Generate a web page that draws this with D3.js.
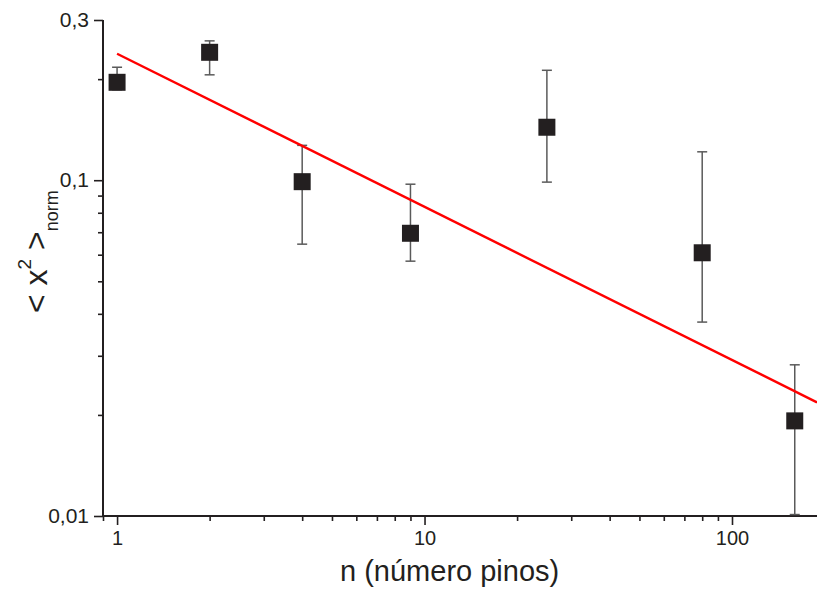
<!DOCTYPE html>
<html>
<head>
<meta charset="utf-8">
<script src="https://cdn.jsdelivr.net/npm/d3@7"></script>
<style>
  html, body { margin: 0; padding: 0; background: #fff; }
  svg { display: block; font-family: "Liberation Sans", Arial, Helvetica, sans-serif; }
</style>
</head>
<body>
<svg id="chart" width="817" height="590"></svg>
<script>
// ---- data ----
const nValues    = [1, 2, 4, 9, 25, 80, 160];
const meanValues = [0.1957, 0.2404, 0.0990, 0.0695, 0.1438, 0.0608, 0.0192];
const errUpper   = [0.2170, 0.2600, 0.1270, 0.0973, 0.2125, 0.1215, 0.0282];
const errLower   = [0.1860, 0.2060, 0.0645, 0.0574, 0.0987, 0.0378, 0.0101];

const fitA = 0.238;      // power-law fit  y = A * n^B
const fitB = -0.456;
const fitRange = [1, 189];

const xMajorTicks = [1, 10, 100];
const xMinorTicks = [0.9, 2, 3, 4, 5, 6, 7, 8, 9, 20, 30, 40, 50, 60, 70, 80, 90];
const yMajorTicks = [0.01, 0.1, 0.3];
const yMinorTicks = [0.02, 0.03, 0.04, 0.05, 0.06, 0.07, 0.08, 0.09, 0.2];
const yTickLabels = {0.01: "0,01", 0.1: "0,1", 0.3: "0,3"};

const xDomain = [0.9, 189];
const yDomain = [0.01, 0.3];

// ---- layout ----
const svg = d3.select("#chart");
const mLeft = 103, mRight = 817, mTop = 20, mBottom = 516;

const x = d3.scaleLog().domain(xDomain).range([mLeft, mRight]);
const y = d3.scaleLog().domain(yDomain).range([mBottom, mTop]);

const axisColor = "#231f20";

// X axis
const gx = svg.append("g").attr("transform", `translate(0,${mBottom})`);
gx.call(d3.axisBottom(x).tickValues(xMinorTicks).tickSize(5).tickFormat(""));
const gxMaj = svg.append("g").attr("transform", `translate(0,${mBottom})`);
gxMaj.call(d3.axisBottom(x).tickValues(xMajorTicks).tickSize(9).tickPadding(6)
  .tickFormat(d => String(d)));
[gx, gxMaj].forEach(g => {
  g.select(".domain").attr("stroke", axisColor).attr("stroke-width", 2).attr("d", `M${mLeft},0H${mRight}`);
  g.selectAll(".tick line").attr("stroke", axisColor).attr("stroke-width", 1.6);
});
gxMaj.selectAll(".tick text").attr("fill", axisColor).attr("font-size", 20)
  .attr("font-family", "Liberation Sans, Arial, sans-serif");

// Y axis
const gy = svg.append("g").attr("transform", `translate(${mLeft},0)`);
gy.call(d3.axisLeft(y).tickValues(yMinorTicks).tickSize(5).tickFormat(""));
const gyMaj = svg.append("g").attr("transform", `translate(${mLeft},0)`);
gyMaj.call(d3.axisLeft(y).tickValues(yMajorTicks).tickSize(9).tickPadding(5)
  .tickFormat(d => yTickLabels[d]));
[gy, gyMaj].forEach(g => {
  g.select(".domain").attr("stroke", axisColor).attr("stroke-width", 2).attr("d", `M0,${mBottom}V${mTop}`);
  g.selectAll(".tick line").attr("stroke", axisColor).attr("stroke-width", 1.6);
});
gyMaj.selectAll(".tick text").attr("fill", axisColor).attr("font-size", 21)
  .attr("font-family", "Liberation Sans, Arial, sans-serif");

// Data
const data = nValues.map((n, i) => ({n, v: meanValues[i], hi: errUpper[i], lo: errLower[i]}));

// error bars
const eb = svg.append("g").attr("stroke", "#5a5a5a").attr("stroke-width", 1.5);
data.forEach(d => {
  const cx = x(d.n);
  eb.append("line").attr("x1", cx).attr("x2", cx).attr("y1", y(d.hi)).attr("y2", y(d.lo));
  eb.append("line").attr("x1", cx - 5).attr("x2", cx + 5).attr("y1", y(d.hi)).attr("y2", y(d.hi));
  eb.append("line").attr("x1", cx - 5).attr("x2", cx + 5).attr("y1", y(d.lo)).attr("y2", y(d.lo));
});

// fit line
const fitPts = fitRange.map(n => [x(n), y(fitA * Math.pow(n, fitB))]);
svg.append("path").attr("d", d3.line()(fitPts))
  .attr("stroke", "#ff0000").attr("stroke-width", 2.4).attr("fill", "none");

// squares
const sq = 17;
svg.append("g").selectAll("rect").data(data).join("rect")
  .attr("x", d => x(d.n) - sq / 2).attr("y", d => y(d.v) - sq / 2)
  .attr("width", sq).attr("height", sq).attr("fill", "#231f20");

// X title
svg.append("text").attr("x", 340).attr("y", 581).attr("fill", axisColor)
  .attr("font-size", 29).attr("text-anchor", "start")
  .text("n (número pinos)");

// Y title
const yt = svg.append("text").attr("transform", "translate(47,313) rotate(-90)")
  .attr("fill", axisColor).attr("font-size", 32);
yt.append("tspan").text("< x");
yt.append("tspan").attr("font-size", 19).attr("dy", -16).text("2");
yt.append("tspan").attr("dy", 16).text(" >");
yt.append("tspan").attr("font-size", 18).attr("dy", 11).text("norm");
</script>
</body>
</html>
